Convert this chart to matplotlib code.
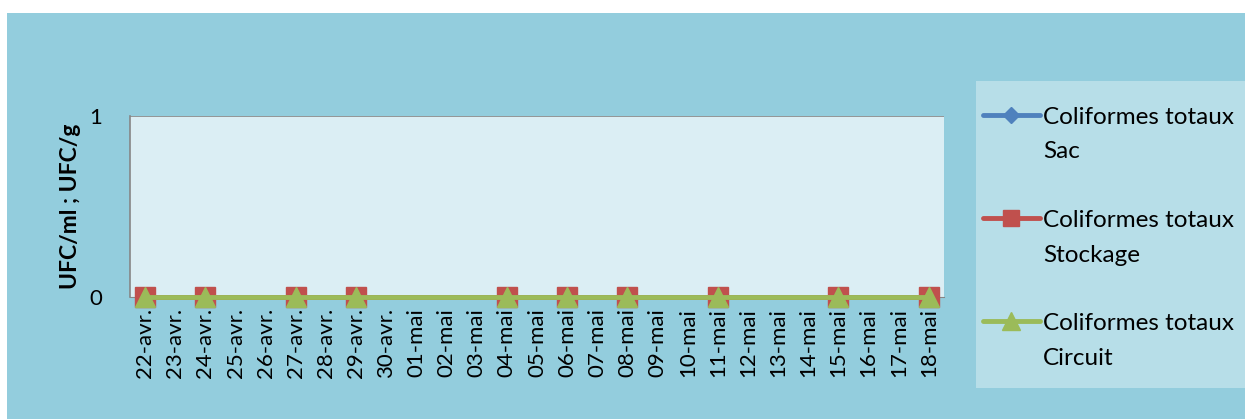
import matplotlib.pyplot as plt
from matplotlib.lines import Line2D
from matplotlib.patches import Rectangle

plt.rcParams['font.family'] = ['Lato', 'DejaVu Sans']

# Données
jours = ['22-avr.', '23-avr.', '24-avr.', '25-avr.', '26-avr.', '27-avr.', '28-avr.',
         '29-avr.', '30-avr.', '01-mai', '02-mai', '03-mai', '04-mai', '05-mai',
         '06-mai', '07-mai', '08-mai', '09-mai', '10-mai', '11-mai', '12-mai',
         '13-mai', '14-mai', '15-mai', '16-mai', '17-mai', '18-mai']
jours_mesure = ['22-avr.', '24-avr.', '27-avr.', '29-avr.', '04-mai', '06-mai',
                '08-mai', '11-mai', '15-mai', '18-mai']
sac = [0, 0, 0, 0, 0, 0, 0, 0, 0, 0]
stockage = [0, 0, 0, 0, 0, 0, 0, 0, 0, 0]
circuit = [0, 0, 0, 0, 0, 0, 0, 0, 0, 0]
noms = [('Coliformes totaux', 'Sac'), ('Coliformes totaux', 'Stockage'),
        ('Coliformes totaux', 'Circuit')]

x = [jours.index(j) for j in jours_mesure]

W, H = 1245, 419
fig = plt.figure(figsize=(W/100, H/100), dpi=100)
fig.patch.set_facecolor('white')
# fond du graphique
fig.patches.append(Rectangle((7/W, 0), 1 - 7/W, (H-13)/H, transform=fig.transFigure,
                             facecolor='#93CDDD', edgecolor='none', zorder=-2))
# cadre de la légende
fig.patches.append(Rectangle((976/W, 31/H), 269/W, 307/H, transform=fig.transFigure,
                             facecolor='#B7DEE8', edgecolor='none', zorder=-1))

ax = fig.add_axes([130/W, (H-297)/H, 814/W, 181/H])
ax.set_facecolor('#DBEEF4')

styles = [
    dict(color='#4F81BD', marker='D', ms=10),
    dict(color='#C0504D', marker='s', ms=14),
    dict(color='#9BBB59', marker='^', ms=15),
]
for i, serie in enumerate([sac, stockage, circuit]):
    st = styles[i]
    ax.plot(x, serie, color=st['color'], lw=3.5, marker=st['marker'], ms=st['ms'],
            mec=st['color'], clip_on=False, zorder=3 + i)

ax.set_xlim(-0.5, len(jours) - 0.5)
ax.set_ylim(0, 1)
ax.set_yticks([0, 1])
ax.set_xticks(range(len(jours)))
ax.set_xticklabels(jours, rotation=90, fontsize=16)
ax.tick_params(axis='y', length=0, labelsize=16, pad=20)
ax.tick_params(axis='x', length=0, pad=8)
ax.grid(False)
ax.axhline(1, color='#868686', lw=1.2, zorder=1)
for s in ['top', 'right']:
    ax.spines[s].set_visible(False)
ax.spines['left'].set_color('#868686')
ax.spines['bottom'].set_color('#868686')
ax.spines['left'].set_linewidth(1.2)
ax.set_ylabel('UFC/ml ; UFC/g', fontsize=16.5, fontweight='bold', labelpad=6)

# légende
for i, (l1, l2) in enumerate(noms):
    st = styles[i]
    y = 1 - (115 + 103 * i) / H
    fig.add_artist(Line2D([983/W, 1040/W], [y, y], transform=fig.transFigure,
                          color=st['color'], lw=3.5, solid_capstyle='round'))
    fig.add_artist(Line2D([1011/W], [y], transform=fig.transFigure, color=st['color'],
                          marker=st['marker'], ms=st['ms'] - 2, lw=0))
    fig.text(1043/W, y, l1, fontsize=17.5, va='center_baseline', ha='left')
    fig.text(1043/W, y - 35/H, l2, fontsize=17.5, va='center_baseline', ha='left')

fig.savefig('out.png', dpi=100)
